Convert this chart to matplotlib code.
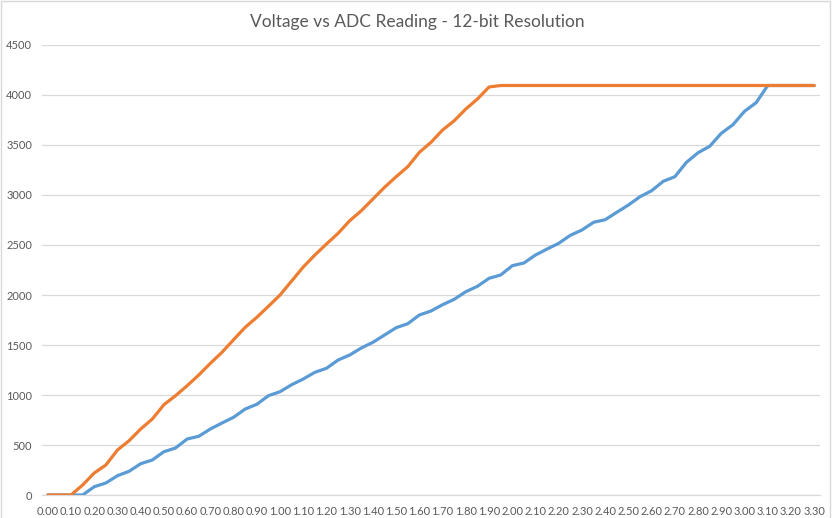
import matplotlib
matplotlib.use('Agg')
import matplotlib.pyplot as plt
from matplotlib.patches import Rectangle

voltages = ["0.00", "0.05", "0.10", "0.15", "0.20", "0.25", "0.30", "0.35", "0.40", "0.45",
            "0.50", "0.55", "0.60", "0.65", "0.70", "0.75", "0.80", "0.85", "0.90", "0.95",
            "1.00", "1.05", "1.10", "1.15", "1.20", "1.25", "1.30", "1.35", "1.40", "1.45",
            "1.50", "1.55", "1.60", "1.65", "1.70", "1.75", "1.80", "1.85", "1.90", "1.95",
            "2.00", "2.05", "2.10", "2.15", "2.20", "2.25", "2.30", "2.35", "2.40", "2.45",
            "2.50", "2.55", "2.60", "2.65", "2.70", "2.75", "2.80", "2.85", "2.90", "2.95",
            "3.00", "3.05", "3.10", "3.15", "3.20", "3.25", "3.30"]

adc_blue = [0, 0, 0, 0, 83, 120, 193, 237, 313, 350,
            433, 470, 560, 587, 660, 720, 777, 860, 907, 993,
            1033, 1103, 1160, 1227, 1267, 1350, 1400, 1470, 1527, 1600,
            1673, 1713, 1800, 1840, 1903, 1957, 2033, 2087, 2167, 2200,
            2293, 2320, 2400, 2460, 2517, 2597, 2650, 2727, 2753, 2827,
            2900, 2983, 3043, 3137, 3183, 3327, 3423, 3487, 3617, 3703,
            3837, 3923, 4095, 4095, 4095, 4095, 4095]

adc_orange = [0, 0, 0, 100, 220, 300, 450, 543, 660, 760,
              903, 993, 1093, 1200, 1317, 1427, 1553, 1677, 1777, 1887,
              2000, 2140, 2280, 2400, 2510, 2617, 2743, 2843, 2960, 3077,
              3183, 3283, 3427, 3527, 3650, 3743, 3860, 3960, 4080, 4095,
              4095, 4095, 4095, 4095, 4095, 4095, 4095, 4095, 4095, 4095,
              4095, 4095, 4095, 4095, 4095, 4095, 4095, 4095, 4095, 4095,
              4095, 4095, 4095, 4095, 4095, 4095, 4095]

y_ticks = [0, 500, 1000, 1500, 2000, 2500, 3000, 3500, 4000, 4500]
title = "Voltage vs ADC Reading - 12-bit Resolution"

plt.rcParams['font.family'] = ['Lato', 'DejaVu Sans']

W, H = 834, 518
fig = plt.figure(figsize=(W / 100, H / 100), dpi=100)
ax = fig.add_axes([42 / W, 1 - 495 / H, 778 / W, 450 / H])

xs = list(range(len(voltages)))
ax.plot(xs, adc_blue, color='#5B9BD5', lw=2.3, solid_joinstyle='round',
        solid_capstyle='round', zorder=3)
ax.plot(xs, adc_orange, color='#ED7D31', lw=2.3, solid_joinstyle='round',
        solid_capstyle='round', zorder=4)

ax.set_xlim(-0.5, len(voltages) - 0.5)
ax.set_ylim(y_ticks[0], y_ticks[-1])
ax.set_yticks(y_ticks)
ax.set_xticks(xs[::2])
ax.set_xticklabels(voltages[::2])

ax.yaxis.grid(True, color='#D9D9D9', lw=0.9)
ax.set_axisbelow(True)
for s in ['top', 'right', 'left']:
    ax.spines[s].set_visible(False)
ax.spines['bottom'].set_color('#D9D9D9')
ax.spines['bottom'].set_linewidth(0.9)
ax.tick_params(axis='both', length=0, colors='#595959', labelsize=8)
ax.tick_params(axis='x', pad=8)
ax.tick_params(axis='y', pad=7)

fig.text(417 / W, 1 - 22 / H, title, ha='center', va='center',
         fontsize=12.5, color='#595959', fontweight='normal')

fig.add_artist(Rectangle((0.5 / W, -0.02), 829 / W, 1.02 - 1 / H,
                         transform=fig.transFigure, fill=False,
                         ec='#D9D9D9', lw=1.0, clip_on=False))

fig.savefig('out.png', dpi=100)
